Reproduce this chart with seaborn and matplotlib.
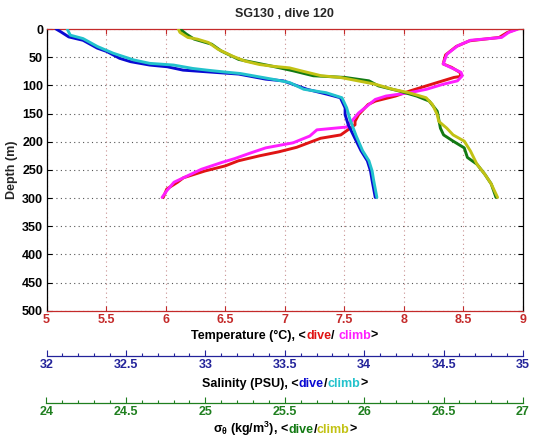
import matplotlib
matplotlib.use("Agg")
import matplotlib.pyplot as plt
import seaborn as sns
from matplotlib.offsetbox import TextArea, HPacker, AnchoredOffsetbox
from matplotlib.ticker import MultipleLocator

# ---------------- data ----------------
title = "SG130 , dive 120"

depth_ticks = [0, 50, 100, 150, 200, 250, 300, 350, 400, 450, 500]
temp_ticks = [5, 5.5, 6, 6.5, 7, 7.5, 8, 8.5, 9]
sal_ticks = [32, 32.5, 33, 33.5, 34, 34.5, 35]
sig_ticks = [24, 24.5, 25, 25.5, 26, 26.5, 27]

# Temperature, dive (red)
temp_dive_d = [0, 6, 15, 21, 31, 46, 62, 68, 77, 84, 86, 95, 110, 119, 128, 134, 152, 164, 170,
               188, 194, 210, 218, 225, 234, 243, 252, 264, 272, 284, 299]
temp_dive = [8.95, 8.87, 8.80, 8.55, 8.44, 8.35, 8.33, 8.40, 8.47, 8.48, 8.42, 8.28, 8.05, 7.93, 7.76, 7.70, 7.62, 7.59, 7.59,
             7.47, 7.30, 7.10, 6.95, 6.79, 6.61, 6.50, 6.33, 6.15, 6.10, 6.01, 5.98]
# Temperature, climb (magenta)
temp_climb_d = [0, 6, 15, 20, 30, 45, 62, 68, 77, 83, 92, 98, 107, 113, 119, 125, 149, 164, 174,
                179, 190, 202, 211, 221, 230, 237, 249, 264, 272, 287, 299]
temp_climb = [8.96, 8.88, 8.82, 8.56, 8.45, 8.36, 8.33, 8.39, 8.48, 8.49, 8.45, 8.33, 8.19, 8.05, 7.85, 7.76, 7.62, 7.56, 7.52,
              7.27, 7.21, 7.07, 6.84, 6.70, 6.58, 6.47, 6.30, 6.15, 6.07, 6.01, 5.97]

# Salinity, dive (blue)
sal_dive_d = [0, 5, 14, 20, 34, 40, 52, 58, 64, 67, 73, 80, 89, 92, 98, 107, 116, 122, 140, 152, 170,
              193, 216, 234, 252, 269, 299]
sal_dive = [32.06, 32.09, 32.14, 32.23, 32.32, 32.38, 32.46, 32.53, 32.65, 32.76, 32.86, 33.21, 33.38, 33.49, 33.55,
            33.64, 33.77, 33.85, 33.88, 33.88, 33.90, 33.94, 33.98, 34.02, 34.04, 34.05, 34.07]
# Salinity, climb (cyan)
sal_climb_d = [0, 11, 17, 31, 43, 55, 61, 64, 70, 73, 76, 79, 89, 95, 107, 113, 122, 140, 160,
               190, 216, 234, 252, 269, 299]
sal_climb = [32.13, 32.15, 32.23, 32.32, 32.42, 32.55, 32.65, 32.80, 32.92, 33.01, 33.11, 33.22, 33.42, 33.53, 33.62,
             33.76, 33.86, 33.89, 33.91, 33.95, 33.99, 34.03, 34.05, 34.06, 34.08]

# Sigma-theta, dive (green)
sig_dive_d = [0, 9, 18, 27, 39, 54, 66, 74, 83, 86, 92, 101, 110, 119, 128, 146, 176, 188, 199, 211,
              228, 240, 258, 275, 299]
sig_dive = [24.84, 24.88, 24.93, 25.04, 25.10, 25.21, 25.42, 25.55, 25.68, 25.88, 26.03, 26.09, 26.22, 26.33, 26.41,
            26.46, 26.48, 26.50, 26.56, 26.63, 26.65, 26.71, 26.76, 26.80, 26.83]
# Sigma-theta, climb (olive)
sig_climb_d = [0, 6, 15, 18, 24, 36, 48, 57, 63, 66, 69, 74, 83, 86, 92, 98, 107, 113, 122, 134, 152, 164,
               176, 188, 199, 217, 240, 258, 275, 299]
sig_climb = [24.83, 24.84, 24.89, 24.95, 25.02, 25.08, 25.17, 25.25, 25.34, 25.42, 25.53, 25.60, 25.73, 25.85, 25.96,
             26.07, 26.18, 26.28, 26.39, 26.43, 26.46, 26.47, 26.52, 26.56, 26.63, 26.67, 26.71, 26.76, 26.80, 26.84]

# ---------------- style ----------------
sns.set_style("white")
plt.rcParams["font.family"] = ["Liberation Sans", "DejaVu Sans"]
plt.rcParams["font.weight"] = "bold"
plt.rcParams["mathtext.default"] = "regular"

C_T_AX = "#c42a2a"
C_S_AX = "#23239a"
C_G_AX = "#1f7f1f"
C_RED = "#e01414"
C_MAG = "#ff1eff"
C_BLUE = "#0a0ad2"
C_CYAN = "#22c2cc"
C_GREEN = "#137a13"
C_OLIVE = "#c2c214"

FS = 9
W, H = 535, 442
fig = plt.figure(figsize=(W / 100, H / 100), dpi=100)

L, R, T, B = 46.5, 523, 29, 310.7
ax = fig.add_axes([L / W, 1 - B / H, (R - L) / W, (B - T) / H])

lw = 2.1
for xs, ds, c in [(temp_dive, temp_dive_d, C_RED), (temp_climb, temp_climb_d, C_MAG)]:
    sns.lineplot(x=xs, y=ds, sort=False, estimator=None, color=c, lw=lw, ax=ax)

# salinity and sigma share the depth axis through twin x axes
ax_s = ax.twiny()
ax_g = ax.twiny()
for a in (ax_s, ax_g):
    a.axis("off")
for xs, ds, c in [(sal_dive, sal_dive_d, C_BLUE), (sal_climb, sal_climb_d, C_CYAN)]:
    sns.lineplot(x=xs, y=ds, sort=False, estimator=None, color=c, lw=lw, ax=ax_s)
for xs, ds, c in [(sig_dive, sig_dive_d, C_GREEN), (sig_climb, sig_climb_d, C_OLIVE)]:
    sns.lineplot(x=xs, y=ds, sort=False, estimator=None, color=c, lw=lw, ax=ax_g)
ax_s.set_xlim(32, 35)
ax_g.set_xlim(24, 27)

ax.set_xlim(5, 9)
ax.set_ylim(500, 0)
ax.set_xticks(temp_ticks)
ax.set_xticklabels([f"{t:g}" for t in temp_ticks])
ax.set_yticks(depth_ticks)
ax.set_yticklabels([str(d) for d in depth_ticks])
ax.tick_params(axis="x", direction="in", length=3.5, width=0.8, colors=C_T_AX, top=True,
               bottom=True, labelsize=FS, pad=2.5)
ax.tick_params(axis="y", direction="in", length=3.5, width=0.8, colors="black", right=True,
               left=True, labelsize=FS, pad=2.5)
for lab in ax.get_xticklabels() + ax.get_yticklabels():
    lab.set_fontweight("bold")
for lab in ax.get_xticklabels():
    lab.set_color(C_T_AX)
ax.xaxis.grid(True, color="#c89090", linestyle=(0, (1, 3)), lw=0.8)
ax.yaxis.grid(True, color="#555555", linestyle=(0, (1, 3)), lw=0.8)
ax.set_axisbelow(True)
for s in ("top", "bottom"):
    ax.spines[s].set_color(C_T_AX)
for s in ("left", "right"):
    ax.spines[s].set_color("black")
for s in ax.spines.values():
    s.set_linewidth(0.9)

ax.set_ylabel("Depth (m)", fontsize=FS, fontweight="bold", labelpad=3)
ax.set_xlabel("")
fig.text((L + R) / 2 / W, 1 - 13.7 / H, title, ha="center", va="center",
         fontsize=FS, fontweight="bold")


def colored_label(parts, y_px):
    areas = [TextArea(t, textprops=dict(color=c, fontsize=FS, fontweight="bold",
                                        family=["Liberation Sans", "DejaVu Sans"]))
             for t, c in parts]
    box = HPacker(children=areas, align="baseline", pad=0, sep=0)
    anc = AnchoredOffsetbox(loc="center", child=box, pad=0, borderpad=0, frameon=False,
                            bbox_to_anchor=((L + R) / 2 / W, 1 - y_px / H),
                            bbox_transform=fig.transFigure)
    fig.add_artist(anc)


colored_label([("Temperature (°C), <", "black"), ("dive", C_RED), ("/ ", "black"),
               ("climb", C_MAG), (">", "black")], 335.8)


def extra_axis(y_px, lo, hi, ticks, color):
    a = fig.add_axes([L / W, 1 - y_px / H, (R - L) / W, 1e-5])
    a.patch.set_visible(False)
    for s in ("top", "left", "right"):
        a.spines[s].set_visible(False)
    a.spines["bottom"].set_color(color)
    a.spines["bottom"].set_linewidth(0.9)
    a.set_xlim(lo, hi)
    a.set_yticks([])
    a.set_xticks(ticks)
    a.set_xticklabels([f"{t:g}" for t in ticks])
    a.xaxis.set_minor_locator(MultipleLocator(0.1))
    a.tick_params(axis="x", which="major", direction="in", length=4, width=0.8,
                  colors=color, labelsize=FS, pad=2.5, bottom=True)
    a.tick_params(axis="x", which="minor", direction="in", length=2.2, width=0.8,
                  colors=color, bottom=True)
    for lab in a.get_xticklabels():
        lab.set_fontweight("bold")
    return a


extra_axis(355.7, 32, 35, sal_ticks, C_S_AX)
colored_label([("Salinity (PSU), <", "black"), ("dive", C_BLUE), ("/", "black"),
               ("climb", C_CYAN), (">", "black")], 383.6)
extra_axis(402.7, 24, 27, sig_ticks, C_G_AX)
colored_label([(r"$\sigma_\theta$ (kg/m$^3$), <", "black"), ("dive", C_GREEN), ("/", "black"),
               ("climb", C_OLIVE), (">", "black")], 429)

fig.savefig("out.png", dpi=100)
